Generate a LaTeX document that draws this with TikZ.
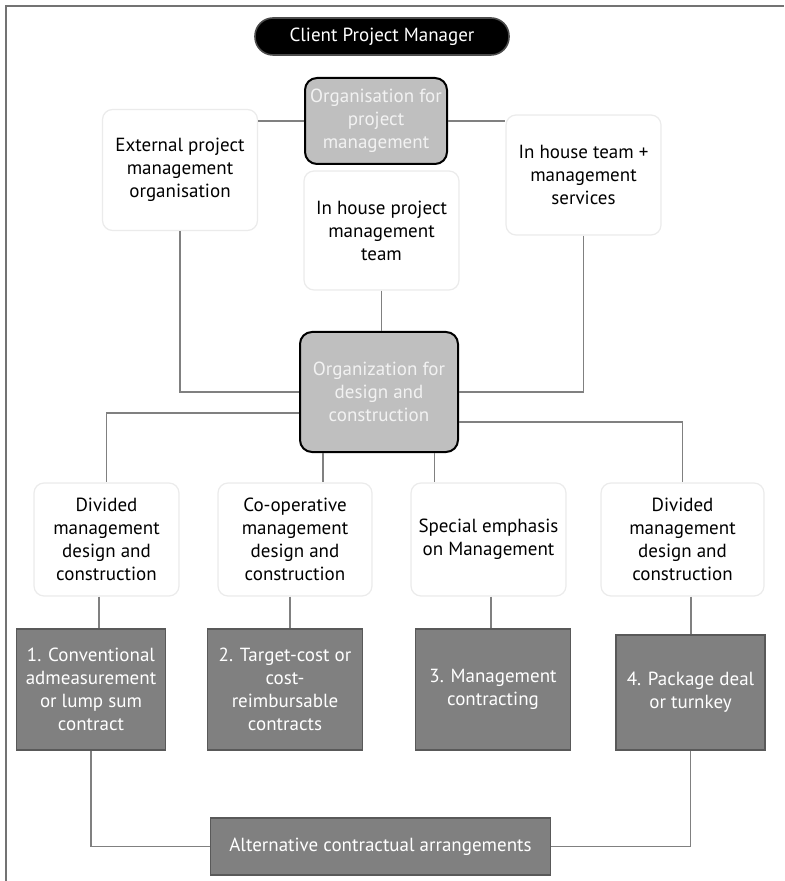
\documentclass[tikz,border=0pt]{standalone}
\usepackage{fontspec}
\setmainfont{PT Sans}
\usetikzlibrary{positioning}

\begin{document}
\begin{tikzpicture}[x=0.5pt, y=-0.5pt,
    every node/.style={font=\fontsize{9.5}{11.5}\selectfont, align=center, inner sep=1pt},
    client/.style={fill=black, draw=black!70, line width=0.8pt, text=white, rounded corners=9pt, minimum width=127pt, minimum height=18.5pt},
    orgbox/.style={draw=black, line width=1pt, fill=black!25, text=black!5, rounded corners=6pt},
    optbox/.style={draw=black!8, line width=0.6pt, fill=white, rounded corners=5pt, minimum height=56.5pt},
    contractbox/.style={draw=black!65, line width=0.8pt, fill=black!50, text=white},
    link/.style={draw=black!50, line width=0.6pt}]
    \useasboundingbox (0,0) rectangle (784,881);
    \draw[black!55, line width=0.9pt] (6,881) -- (6,6) -- (784,6);

    \node[client] (client) at (382,36.5) {Client Project Manager};
    \node[orgbox, minimum width=71pt, minimum height=43pt] (orgpm) at (376,121) {Organisation for\\project\\management};
    \node[optbox, minimum width=77.5pt, minimum height=60.5pt] (extorg) at (180,170) {External project\\management\\organisation};
    \node[optbox, minimum width=77.5pt, minimum height=60pt] (inhouseplus) at (583.5,175) {In house team +\\management\\services};
    \node[optbox, minimum width=77.5pt, minimum height=59.5pt] (inhouse) at (381.5,230.5) {In house project\\management\\team};
    \node[orgbox, minimum width=79pt, minimum height=60pt] (orgdc) at (379,392) {Organization for\\design and\\construction};

    \node[optbox, minimum width=72.5pt] (divA) at (106.5,539.5) {Divided\\management\\design and\\construction};
    \node[optbox, minimum width=77pt] (coop) at (295,539.5) {Co-operative\\management\\design and\\construction};
    \node[optbox, minimum width=77.5pt] (special) at (488.5,539.5) {Special emphasis\\on Management};
    \node[optbox, minimum width=81.5pt] (divD) at (682.5,539.5) {Divided\\management\\design and\\construction};

    \node[contractbox, minimum width=74.5pt, minimum height=60.5pt] (conv) at (91,689.5) {1. Conventional\\admeasurement\\or lump sum\\contract};
    \node[contractbox, minimum width=77.5pt, minimum height=60.5pt] (target) at (285,689.5) {2. Target-cost or\\cost-\\reimbursable\\contracts};
    \node[contractbox, minimum width=77.5pt, minimum height=60.5pt] (mgmt) at (493,689.5) {3. Management\\contracting};
    \node[contractbox, minimum width=74.5pt, minimum height=57.5pt] (package) at (690.5,692.5) {4. Package deal\\or turnkey};
    \node[contractbox, minimum width=170pt, minimum height=28.5pt] (alt) at (380.5,846.5) {Alternative contractual arrangements};

    \draw[link] (orgpm.west) -- (orgpm.west -| extorg.east);
    \draw[link] (orgpm.east) -- (orgpm.east -| inhouseplus.west);
    \draw[link] (extorg.south) |- (orgdc.west);
    \draw[link] (inhouseplus.south) |- (orgdc.east);
    \draw[link] (inhouse.south) -- (inhouse.south |- orgdc.north);

    \draw[link] ([yshift=-10.5pt]orgdc.west) -| (divA.north);
    \draw[link] ([yshift=-15pt]orgdc.east) -| (divD.north);
    \draw[link] ([xshift=-28pt]orgdc.south) -- ([xshift=-28pt]orgdc.south |- coop.north);
    \draw[link] ([xshift=27.75pt]orgdc.south) -- ([xshift=27.75pt]orgdc.south |- special.north);

    \draw[link] ([xshift=-3.75pt]divA.south) -- ([xshift=-3.75pt]divA.south |- conv.north);
    \draw[link] ([xshift=-2.5pt]coop.south) -- ([xshift=-2.5pt]coop.south |- target.north);
    \draw[link] ([xshift=1.25pt]special.south) -- ([xshift=1.25pt]special.south |- mgmt.north);
    \draw[link] ([xshift=4.25pt]divD.south) -- ([xshift=4.25pt]divD.south |- package.north);

    \draw[link] (conv.south) |- (alt.west);
    \draw[link] (package.south) |- (alt.east);
\end{tikzpicture}
\end{document}
